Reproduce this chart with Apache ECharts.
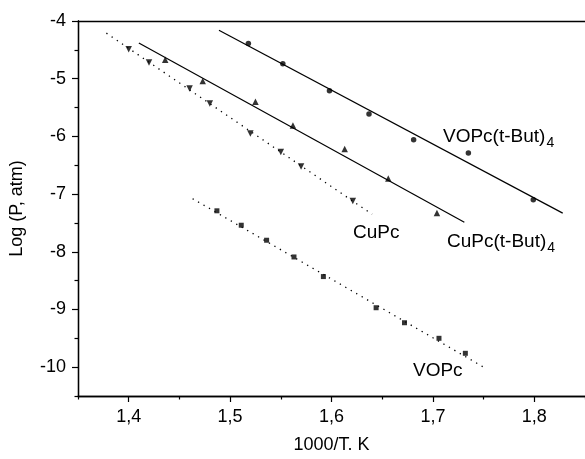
<!DOCTYPE html>
<html>
<head>
<meta charset="utf-8">
<script src="https://cdn.jsdelivr.net/npm/echarts@6/dist/echarts.min.js"></script>
<style>html,body{margin:0;padding:0;background:#fff;}#c{width:585px;height:459px;}</style>
</head>
<body>
<div id="c"></div>
<script>
// ---- data ----
const vopcTBx = [1.518, 1.552, 1.598, 1.637, 1.681, 1.735, 1.799];
const vopcTBy = [-4.39, -4.74, -5.21, -5.61, -6.06, -6.29, -7.10];
const vopcTBfitX = [1.489, 1.828];
const vopcTBfitY = [-4.16, -7.33];

const cupcTBx = [1.436, 1.473, 1.525, 1.562, 1.613, 1.656, 1.704];
const cupcTBy = [-4.67, -5.04, -5.40, -5.81, -6.22, -6.73, -7.33];
const cupcTBfitX = [1.410, 1.731];
const cupcTBfitY = [-4.38, -7.49];

const cupcX = [1.400, 1.420, 1.460, 1.480, 1.520, 1.550, 1.570, 1.621];
const cupcY = [-4.49, -4.72, -5.17, -5.43, -5.95, -6.27, -6.52, -7.12];
const cupcFitX = [1.378, 1.640];
const cupcFitY = [-4.21, -7.35];

const vopcX = [1.487, 1.511, 1.536, 1.563, 1.592, 1.644, 1.672, 1.706, 1.732];
const vopcY = [-7.29, -7.54, -7.80, -8.09, -8.43, -8.97, -9.23, -9.50, -9.76];
const vopcFitX = [1.463, 1.753];
const vopcFitY = [-7.08, -10.03];

const xMajor = [1.4, 1.5, 1.6, 1.7, 1.8];
const xMinor = [1.35, 1.45, 1.55, 1.65, 1.75, 1.85];
const yMajor = [-10, -9, -8, -7, -6, -5, -4];
const yMinor = [-10.5, -9.5, -8.5, -7.5, -6.5, -5.5, -4.5];

const zip = (xs, ys) => xs.map((x, i) => [x, ys[i]]);
const FONT = 'Liberation Sans, Arial, Helvetica, sans-serif';
const X_MIN = 1.35, X_MAX = 1.85, Y_MIN = -10.5, Y_MAX = -4;

const chart = echarts.init(document.getElementById('c'), null, {renderer: 'canvas'});

const lineCol = '#000';
const axisBase = {
  type: 'value',
  splitLine: {show: false},
  axisLine: {show: true, onZero: false, lineStyle: {color: lineCol, width: 1.3}}
};

const option = {
  backgroundColor: '#fff',
  animation: false,
  grid: {left: 77.5, right: 0, top: 21, bottom: 59, containLabel: false},
  xAxis: [
    Object.assign({}, axisBase, {
      min: X_MIN, max: X_MAX, position: 'bottom',
      name: '1000/T. K', nameLocation: 'middle', nameGap: 40,
      nameTextStyle: {fontFamily: FONT, fontSize: 18, color: '#000'},
      axisTick: {show: true, length: 6, customValues: xMajor, lineStyle: {color: lineCol, width: 1.2}},
      axisLabel: {show: true, customValues: xMajor, margin: 12, fontFamily: FONT, fontSize: 18, color: '#000',
        formatter: v => v.toFixed(1).replace('.', ',')}
    }),
    Object.assign({}, axisBase, {
      min: X_MIN, max: X_MAX, position: 'bottom',
      axisTick: {show: true, length: 3.5, customValues: xMinor, lineStyle: {color: lineCol, width: 1.2}},
      axisLabel: {show: false}
    }),
    Object.assign({}, axisBase, {
      min: X_MIN, max: X_MAX, position: 'top',
      axisTick: {show: false}, axisLabel: {show: false}
    })
  ],
  yAxis: [
    Object.assign({}, axisBase, {
      min: Y_MIN, max: Y_MAX, position: 'left',
      name: 'Log (P, atm)', nameLocation: 'middle', nameGap: 52,
      nameTextStyle: {fontFamily: FONT, fontSize: 18, color: '#000'},
      axisTick: {show: true, length: 6, customValues: yMajor, lineStyle: {color: lineCol, width: 1.2}},
      axisLabel: {show: true, customValues: yMajor, margin: 12, fontFamily: FONT, fontSize: 18, color: '#000',
        formatter: v => String(v)}
    }),
    Object.assign({}, axisBase, {
      min: Y_MIN, max: Y_MAX, position: 'left',
      axisTick: {show: true, length: 3.5, customValues: yMinor, lineStyle: {color: lineCol, width: 1.2}},
      axisLabel: {show: false}
    })
  ],
  series: [
    {type: 'line', data: zip(vopcTBfitX, vopcTBfitY), symbol: 'none', lineStyle: {color: '#000', width: 1.2}, silent: true},
    {type: 'line', data: zip(cupcTBfitX, cupcTBfitY), symbol: 'none', lineStyle: {color: '#000', width: 1.2}, silent: true},
    {type: 'line', data: zip(cupcFitX, cupcFitY), symbol: 'none', lineStyle: {color: '#000', width: 1.3, type: [1.3, 5]}, silent: true},
    {type: 'line', data: zip(vopcFitX, vopcFitY), symbol: 'none', lineStyle: {color: '#000', width: 1.3, type: [1.3, 5]}, silent: true},
    {type: 'scatter', data: zip(vopcTBx, vopcTBy), symbol: 'circle', symbolSize: 5.5, itemStyle: {color: '#000'}},
    {type: 'scatter', data: zip(cupcTBx, cupcTBy), symbol: 'triangle', symbolSize: 6.5, itemStyle: {color: '#000'}},
    {type: 'scatter', data: zip(cupcX, cupcY), symbol: 'triangle', symbolRotate: 180, symbolSize: 6.5, itemStyle: {color: '#000'}},
    {type: 'scatter', data: zip(vopcX, vopcY), symbol: 'rect', symbolSize: 5, itemStyle: {color: '#000'}}
  ],
  graphic: [
    {type: 'text', left: 443, top: 127, z: 100, style: {
      text: 'VOPc(t-But){s|4}', fontFamily: FONT, fontSize: 19, fill: '#000',
      rich: {s: {fontFamily: FONT, fontSize: 14, verticalAlign: 'bottom', lineHeight: 27, padding: [0, 0, 0, 1]}}}},
    {type: 'text', left: 447, top: 232, z: 100, style: {
      text: 'CuPc(t-But){s|4}', fontFamily: FONT, fontSize: 19, fill: '#000',
      rich: {s: {fontFamily: FONT, fontSize: 14, verticalAlign: 'bottom', lineHeight: 27, padding: [0, 0, 0, 1]}}}},
    {type: 'text', left: 353, top: 223, z: 100, style: {text: 'CuPc', fontFamily: FONT, fontSize: 19, fill: '#000'}},
    {type: 'text', left: 413, top: 361, z: 100, style: {text: 'VOPc', fontFamily: FONT, fontSize: 19, fill: '#000'}}
  ]
};
chart.setOption(option);
</script>
</body>
</html>
